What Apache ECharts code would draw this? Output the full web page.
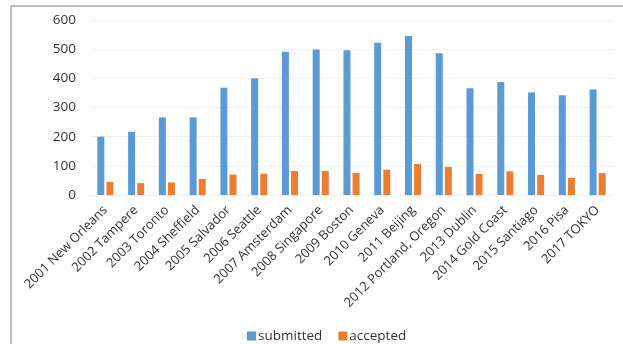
<!DOCTYPE html>
<html>
<head>
<meta charset="utf-8">
<script src="https://cdn.jsdelivr.net/npm/echarts@6/dist/echarts.min.js"></script>
<style>
  html, body { margin: 0; padding: 0; background: #fff; }
  #chart { width: 623px; height: 344px; }
</style>
</head>
<body>
<div id="chart"></div>
<script>
// Conference venues by year
const venues = [
  '2001 New Orleans', '2002 Tampere', '2003 Toronto', '2004 Sheffield',
  '2005 Salvador', '2006 Seattle', '2007 Amsterdam', '2008 Singapore',
  '2009 Boston', '2010 Geneva', '2011 Beijing', '2012 Portland, Oregon',
  '2013 Dublin', '2014 Gold Coast', '2015 Santiago', '2016 Pisa', '2017 TOKYO'
];
// Papers submitted and accepted per year
const submitted = [200, 217, 266, 266, 368, 400, 491, 499, 496, 522, 545, 486, 366, 387, 352, 342, 362];
const accepted  = [45, 41, 43, 55, 70, 73, 82, 82, 76, 87, 106, 96, 72, 81, 69, 59, 75];

const FONT = '"Open Sans", "Liberation Sans", sans-serif';
const TEXT = '#333333';

const chart = echarts.init(document.getElementById('chart'), null, { renderer: 'canvas' });
chart.setOption({
  animation: false,
  backgroundColor: '#fff',
  graphic: [{
    type: 'rect',
    shape: { x: 11, y: 6, width: 700, height: 400 },
    style: { fill: 'none', stroke: '#a6a6a6', lineWidth: 1.5 },
    silent: true
  }],
  grid: { left: 90, right: 10, top: 20, bottom: 149 },
  legend: {
    top: 324,
    left: 242,
    itemWidth: 9,
    itemHeight: 9,
    itemGap: 16,
    icon: 'rect',
    textStyle: { fontFamily: FONT, fontSize: 13.5, color: TEXT, padding: [0, 0, 0, -3] },
    data: ['submitted', 'accepted']
  },
  xAxis: {
    type: 'category',
    data: venues,
    axisLine: { lineStyle: { color: '#eeeeee' } },
    axisTick: { show: false },
    axisLabel: {
      interval: 0,
      rotate: 45,
      margin: 13,
      fontFamily: FONT,
      fontSize: 13,
      color: TEXT
    }
  },
  yAxis: {
    type: 'value',
    min: 0,
    max: 600,
    interval: 100,
    axisLine: { show: false },
    axisTick: { show: false },
    splitLine: { lineStyle: { color: '#f0f0f0' } },
    axisLabel: { margin: 14, fontFamily: FONT, fontSize: 13.5, color: TEXT }
  },
  series: [
    {
      name: 'submitted', type: 'bar', data: submitted,
      barWidth: 7, barGap: '30%',
      itemStyle: { color: '#5b9bd5' }
    },
    {
      name: 'accepted', type: 'bar', data: accepted,
      barWidth: 7,
      itemStyle: { color: '#ed7d31' }
    }
  ]
});
</script>
</body>
</html>
